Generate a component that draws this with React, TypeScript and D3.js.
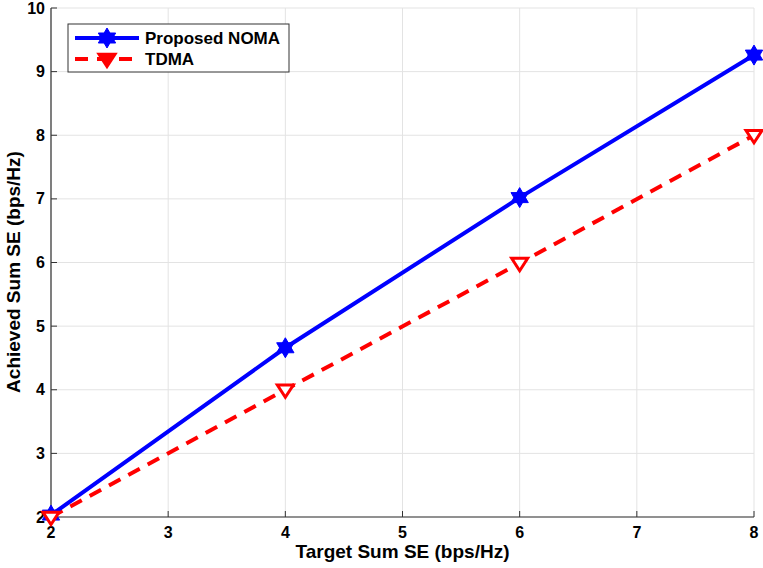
import React from "react";
import * as d3 from "d3";

const targetSE = [2, 4, 6, 8];
const nomaSE = [2.03, 4.66, 7.02, 9.26];
const tdmaSE = [2.0, 4.0, 5.99, 8.0];
const xTicks = [2, 3, 4, 5, 6, 7, 8];
const yTicks = [2, 3, 4, 5, 6, 7, 8, 9, 10];

const W = 763;
const H = 568;
const margin = { top: 8, right: 9, bottom: 51, left: 51 };
const font = "'Liberation Sans', Arial, sans-serif";

// six-pointed star
const hexagram = (cx: number, cy: number, r: number) => {
  const tri = (off: number) =>
    d3.range(3).map((i) => {
      const a = off + (i * 2 * Math.PI) / 3;
      return [cx + r * Math.sin(a), cy - r * Math.cos(a)];
    });
  const p = (pts: number[][]) => "M" + pts.map((q) => q.join(",")).join("L") + "Z";
  return p(tri(0)) + p(tri(Math.PI));
};

const triDown = (cx: number, cy: number, r: number) =>
  `M${cx - r},${cy - r * 0.6}L${cx + r},${cy - r * 0.6}L${cx},${cy + r * 0.95}Z`;

const App = () => {
  const iw = W - margin.left - margin.right;
  const ih = H - margin.top - margin.bottom;
  const x = d3.scaleLinear().domain([2, 8]).range([0, iw]);
  const y = d3.scaleLinear().domain([2, 10]).range([ih, 0]);

  const line = d3
    .line<number>()
    .x((_, i) => x(targetSE[i]))
    .y((d) => y(d));

  return (
    <svg width={W} height={H} style={{ position: "absolute", left: 0, top: 0 }}>
      <rect width={W} height={H} fill="white" />
      <g transform={`translate(${margin.left},${margin.top})`}>
        {xTicks.map((t) => (
          <line key={"gx" + t} x1={x(t)} x2={x(t)} y1={0} y2={ih} stroke="#e3e3e3" />
        ))}
        {yTicks.map((t) => (
          <line key={"gy" + t} x1={0} x2={iw} y1={y(t)} y2={y(t)} stroke="#e3e3e3" />
        ))}
        {/* axes */}
        <line x1={0} x2={iw} y1={ih} y2={ih} stroke="#333" strokeWidth={1.2} />
        <line x1={0} x2={0} y1={0} y2={ih} stroke="#333" strokeWidth={1.2} />
        {xTicks.map((t) => (
          <g key={"tx" + t}>
            <line x1={x(t)} x2={x(t)} y1={ih} y2={ih - 6} stroke="#333" />
            <text
              x={x(t)}
              y={ih + 21}
              textAnchor="middle"
              fontFamily={font}
              fontWeight="bold"
              fontSize={16}
            >
              {t}
            </text>
          </g>
        ))}
        {yTicks.map((t) => (
          <g key={"ty" + t}>
            <line x1={0} x2={6} y1={y(t)} y2={y(t)} stroke="#333" />
            <text
              x={-6}
              y={y(t) + 5.5}
              textAnchor="end"
              fontFamily={font}
              fontWeight="bold"
              fontSize={16}
            >
              {t}
            </text>
          </g>
        ))}

        <path d={line(tdmaSE) || ""} fill="none" stroke="#ff0000" strokeWidth={4} strokeDasharray="13,9" />
        <path d={line(nomaSE) || ""} fill="none" stroke="#0000ff" strokeWidth={4} />
        {nomaSE.map((v, i) => (
          <path key={"s" + i} d={hexagram(x(targetSE[i]), y(v), 10)} fill="#0000ff" stroke="#0000ff" />
        ))}
        {tdmaSE.map((v, i) => (
          <path
            key={"t" + i}
            d={triDown(x(targetSE[i]), y(v), 8)}
            fill="white"
            stroke="#ff0000"
            strokeWidth={3}
          />
        ))}
      </g>

      {/* legend */}
      <g>
        <rect x={68} y={24} width={221} height={48} fill="white" stroke="#333" strokeWidth={1} />
        <line x1={75} x2={139} y1={38} y2={38} stroke="#0000ff" strokeWidth={4} />
        <path d={hexagram(107, 38, 10)} fill="#0000ff" stroke="#0000ff" />
        <text x={145} y={44} fontFamily={font} fontWeight="bold" fontSize={17}>
          Proposed NOMA
        </text>
        <line x1={75} x2={139} y1={59} y2={59} stroke="#ff0000" strokeWidth={4} strokeDasharray="13,9" />
        <path d={triDown(107, 59, 8)} fill="#ff0000" stroke="#ff0000" strokeWidth={3} />
        <text x={145} y={65} fontFamily={font} fontWeight="bold" fontSize={17}>
          TDMA
        </text>
      </g>

      <text
        x={margin.left + iw / 2}
        y={558}
        textAnchor="middle"
        fontFamily={font}
        fontWeight="bold"
        fontSize={19}
      >
        Target Sum SE (bps/Hz)
      </text>
      <text
        transform="translate(20,272) rotate(-90)"
        textAnchor="middle"
        fontFamily={font}
        fontWeight="bold"
        fontSize={19}
      >
        Achieved Sum SE (bps/Hz)
      </text>
    </svg>
  );
};

export default App;
